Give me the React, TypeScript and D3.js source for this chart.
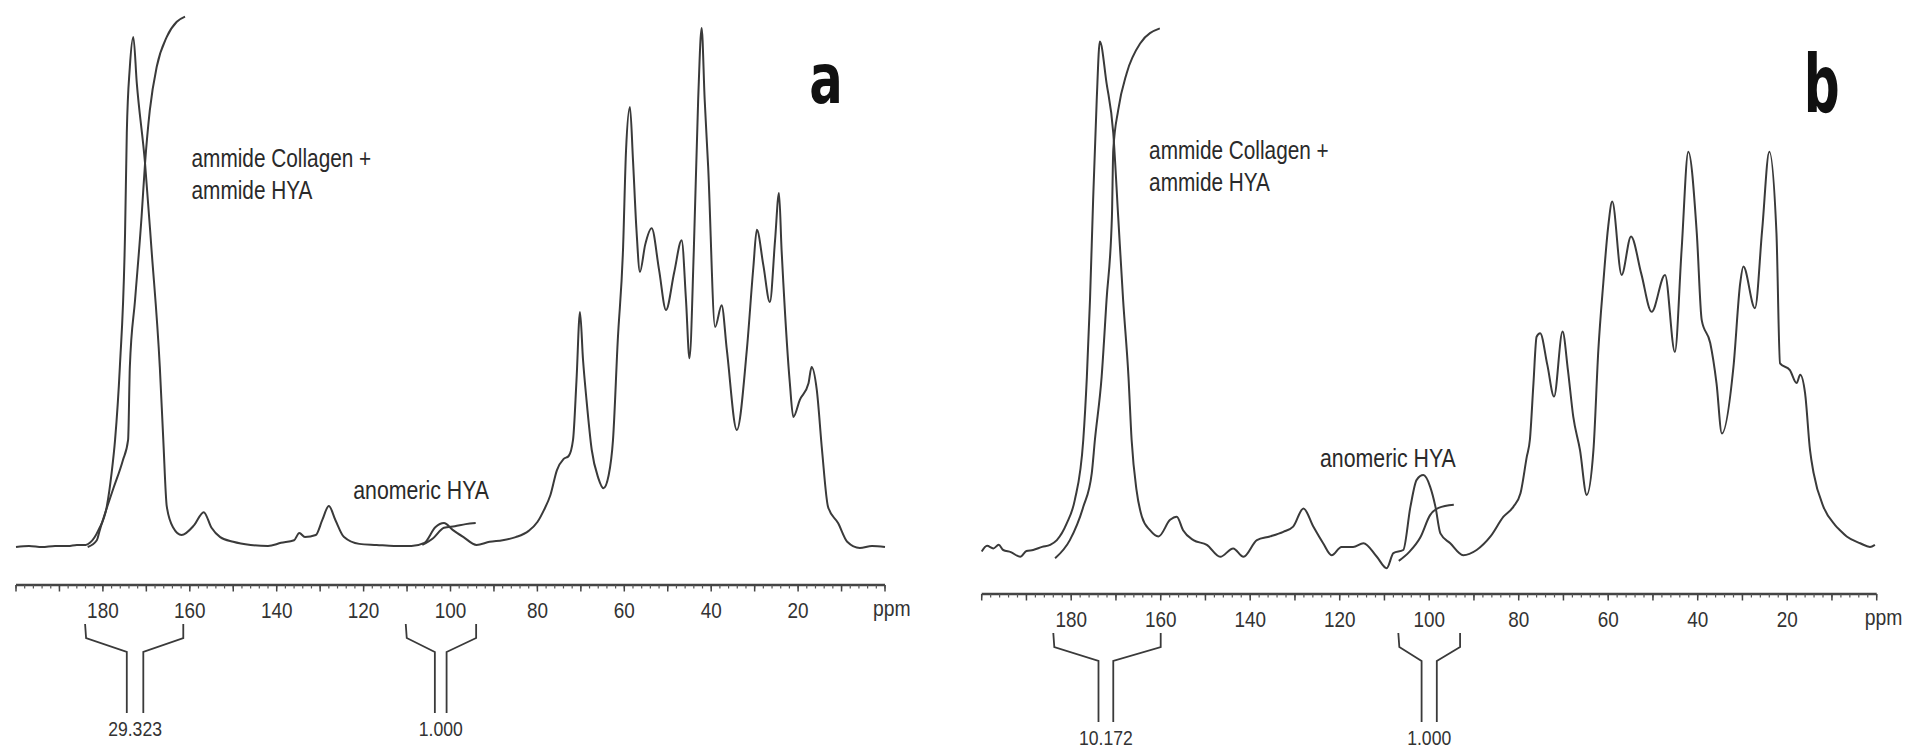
import React from 'react';
import * as d3 from 'd3';

// ---------- DATA (ppm, intensity in arbitrary units) ----------
const specA: [number, number][] = [
  [200, 0], [197, 0.2], [194, 0], [191, 0.2], [188, 0.2], [186, 0.4], [184, 0.4], [183, 0.8], [181, 3.3],
  [179.1, 7.8], [178, 14.2], [177.2, 20.6], [176.1, 34.6], [174.9, 60.4], [174.5, 79.6], [173.8, 92.3],
  [173, 98.1], [172.2, 89.2], [170.3, 73.8], [168.8, 57.1], [166.9, 34.6], [166.1, 20.6], [165.3, 7.8],
  [163.8, 3.7], [161.9, 2.3], [159, 4.2], [156.8, 6.7], [155, 3.7], [153, 1.9], [150, 1.0], [146, 0.4],
  [142, 0.2], [139, 0.8], [136, 1.3], [134.8, 2.7], [133.5, 1.9], [131, 2.3], [129.5, 5.2], [128, 7.9],
  [126.5, 5.2], [124.5, 1.9], [121, 0.6], [117, 0.4], [113, 0.2], [109, 0.2], [106, 0.8], [103.5, 3.8],
  [101.5, 4.6], [99.5, 3.3], [97, 1.9], [94, 0.4], [91, 1.0], [88, 1.3], [85, 1.9], [82, 3.1], [80, 4.8],
  [78.5, 7.1], [77, 10.0], [75.5, 14.8], [74, 16.9], [72.8, 17.5], [71.8, 20.6], [71, 32.1], [70.2, 45.2],
  [69.5, 36.0], [68.7, 28.3], [67.5, 18.7], [66, 13.3], [64.8, 11.3], [63.6, 13.8], [62.6, 20.6],
  [61.5, 39.8], [60.3, 57.1], [59.6, 76.3], [58.7, 84.6], [58, 74.4], [57.2, 61.0], [56.4, 52.9],
  [55.2, 58.1], [53.7, 61.3], [52, 53.3], [50.4, 45.6], [48.5, 52.9], [46.8, 59.0], [45.8, 47.5],
  [45, 36.3], [44, 57.1], [43, 86.0], [42.2, 99.8], [41.5, 86.0], [40.7, 73.1], [39.1, 42.3],
  [37.6, 46.5], [36.4, 37.9], [34.1, 22.5], [31.8, 37.9], [30.3, 53.8], [29.5, 61.0], [28, 54.2],
  [26.5, 47.1], [25.3, 59.0], [24.4, 68.1], [23.8, 57.1], [23.4, 50.8], [21.9, 31.5], [21.1, 25.0],
  [19.6, 28.3], [17.6, 31.5], [16.9, 34.6], [15.7, 30.2], [14.5, 18.7], [13.1, 7.7], [10.8, 4.6],
  [8.7, 1.0], [5.8, -0.2], [3, 0.2], [0, 0],
];

const integralA1: [number, number][] = [
  [183.5, 0], [181.4, 1.3], [180.7, 3.3], [177.7, 11.0], [175.4, 16.7], [174.2, 20.6], [173.8, 34.6],
  [172.6, 47.5], [171.1, 63.5], [170.3, 73.8], [169.2, 84.0], [167.6, 92.4], [165.3, 98.1],
  [163.0, 101.0], [161.1, 102.0],
];
const integralA2: [number, number][] = [
  [106.5, 0.4], [104, 1.7], [101.5, 3.7], [99, 4.0], [96.5, 4.4], [94.2, 4.6],
];

const specB: [number, number][] = [
  [200, -0.3], [198.8, 0.8], [197.4, 0.3], [196.2, 1.0], [195.2, 0], [193.5, -0.4], [191.4, -1.3],
  [190, -0.2], [188.5, 0], [186.5, 0.6], [184.7, 1.0], [183.2, 1.9], [181, 5.1], [179.2, 9.6],
  [177.3, 21.2], [176.5, 33.3], [175.8, 48.1], [175.1, 67.3], [174.3, 86.5], [173.6, 97.8],
  [172.1, 89.8], [170.6, 80.2], [169.5, 64.1], [168.4, 48.1], [167.2, 33.3], [166.5, 21.2],
  [165.4, 11.5], [164.2, 6.4], [162.4, 3.8], [160.5, 2.6], [157.9, 5.8], [156.4, 6.4], [155, 3.8],
  [152.7, 1.9], [149.7, 1.0], [146.7, -1.3], [143.8, 0.3], [141.5, -1.3], [138.5, 1.9], [135.6, 2.6],
  [132.6, 3.5], [130.4, 4.5], [128.1, 8.0], [125.9, 4.5], [123.7, 1.3], [121.8, -1.0], [119.6, 0.6],
  [117, 0.6], [114.7, 1.3], [111.7, -1.3], [109.5, -3.5], [108, -0.6], [105.8, 0], [104.2, 8.3],
  [102.8, 13.5], [101.3, 14.4], [99.8, 12.2], [98.6, 8.3], [97.5, 3.2], [95.3, 1.3], [92.4, -1.0],
  [89.4, 0], [86.3, 2.6], [83.4, 6.4], [81.2, 8.3], [79.6, 10.9], [78.2, 17.9], [77.5, 21.2],
  [76.7, 32.1], [76, 41.0], [75.2, 41.7], [73.6, 35.6], [72.1, 29.5], [70.2, 42.0], [69, 34.6],
  [67.8, 25.6], [66.3, 19.2], [64.8, 10.6], [63.3, 19.2], [62.2, 38.5], [61.1, 51.3], [60, 62.2],
  [59.1, 67.0], [57, 52.9], [54.9, 60.3], [52.6, 53.1], [50.3, 45.8], [47.3, 52.9], [45.1, 38.1],
  [43.6, 57.7], [42.1, 76.6], [40.2, 60.9], [39.1, 44.2], [37.2, 39.8], [35.8, 32.1], [34.6, 22.4],
  [32, 35.3], [30.5, 51.3], [29.8, 54.5], [27.2, 46.5], [25.6, 61.5], [24, 76.6], [22.4, 60.9],
  [21.6, 35.9], [19.4, 34.6], [17.9, 32.1], [17.1, 33.7], [16, 30.1], [14.9, 19.2], [14.1, 14.8],
  [11.9, 8.3], [9.3, 4.8], [8.2, 3.8], [6.7, 2.6], [3.7, 1.3], [1.5, 0.6], [0.4, 1.0],
];

const integralB1: [number, number][] = [
  [183.6, -1.6], [180.3, 1.9], [177.3, 8.3], [175.4, 14.8], [174.7, 21.2], [173.2, 33.3], [172.1, 48.1],
  [170.9, 64.1], [170.6, 76.9], [169.5, 84.6], [167.6, 91.7], [164.6, 97.4], [160.2, 100.3],
];
const integralB2: [number, number][] = [
  [106.8, -2.1], [104.5, -0.4], [102, 2.4], [99.8, 6.7], [97.9, 8.1], [94.5, 8.7],
];

const tickLabels = [180, 160, 140, 120, 100, 80, 60, 40, 20];
const ppmDomain: [number, number] = [200, 0];

type Bracket = { from: number; to: number; stems: [number, number]; label: string };
const bracketsA: Bracket[] = [
  { from: 184.1, to: 161.5, stems: [174.5, 170.7], label: '29.323' },
  { from: 110.3, to: 94.1, stems: [103.6, 100.9], label: '1.000' },
];
const bracketsB: Bracket[] = [
  { from: 184.0, to: 160.0, stems: [173.9, 170.6], label: '10.172' },
  { from: 106.9, to: 93.1, stems: [101.7, 98.3], label: '1.000' },
];

const amideLines = ['ammide Collagen +', 'ammide HYA'];
const anomericText = 'anomeric HYA';

// ---------- PANEL ----------
type PanelProps = {
  xRange: [number, number];
  yRange: [number, number];
  axisY: number;
  spec: [number, number][];
  integrals: [number, number][][];
  brackets: Bracket[];
  amideAt: [number, number];
  anomericAt: [number, number];
  letter: string;
  letterAt: [number, number];
  letterSize: number;
  letterScale: number;
};

const INK = '#3a3a3a';
const FONT = 'Liberation Sans, Arial, sans-serif';

function SText(props: {
  x: number; y: number; sx: number; size: number; anchor?: string; children: React.ReactNode; fill?: string;
}) {
  return (
    <text
      transform={`translate(${props.x},${props.y}) scale(${props.sx},1)`}
      textAnchor={props.anchor || 'start'}
      fontFamily={FONT}
      fontSize={props.size}
      fill={props.fill || '#2a2a2a'}
    >
      {props.children}
    </text>
  );
}

function Panel(p: PanelProps) {
  const x = d3.scaleLinear().domain(ppmDomain).range(p.xRange);
  const y = d3.scaleLinear().domain([0, 100]).range(p.yRange);
  const gen = d3
    .line<[number, number]>()
    .x((d) => x(d[0]))
    .y((d) => y(d[1]))
    .curve(d3.curveMonotoneX);

  const minor = d3.range(0, 201, 2);
  const major = d3.range(0, 201, 10);
  const ay = p.axisY;
  const labelY = ay + 33;

  return (
    <g>
      <path d={gen(p.spec) || ''} fill="none" stroke={INK} strokeWidth={2} strokeLinejoin="round" />
      {p.integrals.map((it, i) => (
        <path key={i} d={gen(it) || ''} fill="none" stroke={INK} strokeWidth={2} strokeLinejoin="round" />
      ))}
      <line x1={x(200)} x2={x(0)} y1={ay} y2={ay} stroke="#444" strokeWidth={2.6} />
      {minor.map((t) => (
        <line key={'m' + t} x1={x(t)} x2={x(t)} y1={ay} y2={ay + 3.5} stroke="#555" strokeWidth={1.2} />
      ))}
      {major.map((t) => (
        <line key={'M' + t} x1={x(t)} x2={x(t)} y1={ay} y2={ay + 6.5} stroke="#444" strokeWidth={1.5} />
      ))}
      {tickLabels.map((t) => (
        <SText key={'l' + t} x={x(t)} y={labelY} sx={0.86} size={22} anchor="middle" fill="#333">
          {t}
        </SText>
      ))}
      <SText x={x(0) - 12} y={labelY - 2} sx={0.88} size={22} fill="#333">
        ppm
      </SText>
      {p.brackets.map((b, i) => {
        const xl = x(b.from);
        const xr = x(b.to);
        const s0 = x(b.stems[0]);
        const s1 = x(b.stems[1]);
        const top = ay + 39;
        const knee = ay + 53;
        const sTop = ay + 67;
        const bot = ay + 128;
        const d = `M${xl},${top}L${xl + 1},${knee}L${s0},${sTop}L${s0},${bot}M${xr},${top}L${xr},${knee}L${s1},${sTop}L${s1},${bot}`;
        return (
          <g key={'b' + i}>
            <path d={d} fill="none" stroke={INK} strokeWidth={1.8} />
            <SText x={(s0 + s1) / 2} y={ay + 151} sx={0.88} size={20} anchor="middle" fill="#333">
              {b.label}
            </SText>
          </g>
        );
      })}
      <SText x={x(p.amideAt[0])} y={y(p.amideAt[1])} sx={0.8} size={26}>
        {amideLines[0]}
      </SText>
      <SText x={x(p.amideAt[0])} y={y(p.amideAt[1]) + 32} sx={0.8} size={26}>
        {amideLines[1]}
      </SText>
      <SText x={x(p.anomericAt[0])} y={y(p.anomericAt[1])} sx={0.82} size={26}>
        {anomericText}
      </SText>
      <text
        transform={`translate(${x(p.letterAt[0])},${y(p.letterAt[1])}) scale(${p.letterScale},1)`}
        textAnchor="middle"
        fontFamily="DejaVu Sans, sans-serif"
        fontWeight="bold"
        fontSize={p.letterSize}
        fill="#111"
      >
        {p.letter}
      </text>
    </g>
  );
}

export default function App() {
  return (
    <svg
      width={1910}
      height={751}
      viewBox="0 0 1910 751"
      style={{ position: 'absolute', left: 0, top: 0, background: '#fff' }}
    >
      <rect x={0} y={0} width={1910} height={751} fill="#fff" />
      <Panel
        xRange={[16, 885]}
        yRange={[547, 27]}
        axisY={585}
        spec={specA}
        integrals={[integralA1, integralA2]}
        brackets={bracketsA}
        amideAt={[159.6, 73.1]}
        anomericAt={[122.4, 9.2]}
        letter="a"
        letterAt={[13.6, 85.3]}
        letterSize={69}
        letterScale={0.72}
      />
      <Panel
        xRange={[981.7, 1876.7]}
        yRange={[550, 30]}
        axisY={594}
        spec={specB}
        integrals={[integralB1, integralB2]}
        brackets={bracketsB}
        amideAt={[162.6, 75.1]}
        anomericAt={[124.4, 16.0]}
        letter="b"
        letterAt={[12.3, 84.3]}
        letterSize={81}
        letterScale={0.62}
      />
    </svg>
  );
}
